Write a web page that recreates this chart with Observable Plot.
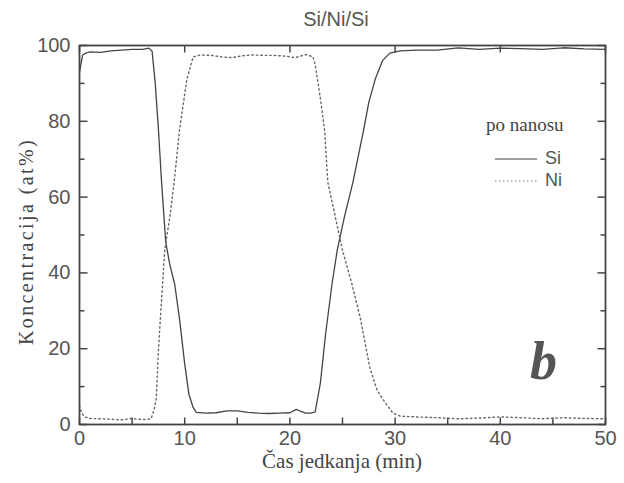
<!DOCTYPE html>
<html><head><meta charset="utf-8">
<script src="https://cdn.jsdelivr.net/npm/d3@7"></script>
<script src="https://cdn.jsdelivr.net/npm/@observablehq/plot@0.6"></script>
<style>
body{margin:0;background:#fff;}
#wrap{position:relative;width:624px;height:483px;}
.ov{position:absolute;color:#444;white-space:nowrap;}
</style></head>
<body><div id="wrap"></div>
<script>
const title = "Si/Ni/Si";
const xLabel = "Čas jedkanja (min)";
const yLabel = "Koncentracija (at%)";
const noteText = "po nanosu";
const panelLetter = "b";
const seriesNames = ["Si", "Ni"];

const siTime = [0,0.3,0.6,1,2,3,4,5,6,6.6,6.9,7.2,7.5,7.8,8.2,8.6,9.05,9.5,10,10.4,10.8,11.1,12,13,14,15,16,17,18,19,20,20.6,21,21.5,22,22.4,22.9,23.4,24,24.5,25.2,26,27,27.5,28.1,28.8,29.5,30.5,32,34,36,38,40,42,44,46,48,50];
const siValue = [93,97.5,98,98.3,98.2,98.6,98.8,99,99,99.3,98.5,90,78,64,48,42,37,28,16,8,4.5,3.2,3,3.1,3.6,3.6,3.2,3,2.9,3,3.1,4,3.5,3,3,3.3,11,24,37,46,55,64,77.6,85,91,96,98,98.6,98.8,98.8,99.4,99,99.3,99.2,99,99.4,99.1,99];

const niTime = [0,0.2,0.5,1,2,3,4,5,6,6.8,7.1,7.3,7.5,7.8,8.1,8.6,9.0,9.5,10.2,10.8,11.5,12.5,13.5,14.5,15.5,16.5,17.5,18.5,19.5,20.5,21.5,22.2,22.4,22.9,23.3,23.6,24.3,25,25.9,26.7,27.6,28.3,29,29.8,30.5,32,34,36,38,40,42,44,46,48,50];
const niValue = [5,3,2,1.6,1.5,1.4,1.2,1.6,1.3,1.5,4,7,19.5,33,46,55,64,77.6,91,97,97.5,97.4,97,96.8,97.3,97.5,97.4,97.4,97.2,96.8,97.6,97,95,86,77.6,64,55,46,37,28,15,9,6,3,2.2,2,1.8,1.5,1.7,2,1.8,1.5,1.8,1.6,1.5];

const xTicks = [0,10,20,30,40,50];
const xMinor = [0,5,10,15,20,25,30,35,40,45,50];
const yTicks = [0,20,40,60,80,100];
const yMinor = [10,30,50,70,90];
const xDomain = [0, 50];
const yDomain = [0, 100];

const si = siTime.map((t,i)=>({t, v: siValue[i]}));
const ni = niTime.map((t,i)=>({t, v: niValue[i]}));

const ink = "#444";
const sans = "'Liberation Sans',Arial,sans-serif";
const serif = "'Liberation Serif','Times New Roman',serif";
const W = 624, H = 483, mL = 79, mR = 19, mT = 45, mB = 59;
const fw = W - mL - mR, fh = H - mT - mB;
// convert a tick length in pixels to data units of each scale
const px2x = p => p * (xDomain[1] - xDomain[0]) / fw;
const px2y = p => p * (yDomain[1] - yDomain[0]) / fh;
const tickStyle = {stroke: ink, strokeWidth: 1.5};

const plot = Plot.plot({
  width: W, height: H,
  marginLeft: mL, marginRight: mR, marginTop: mT, marginBottom: mB,
  x: {domain: xDomain},
  y: {domain: yDomain},
  style: {fontFamily: sans, fontSize: "20px", color: ink, background: "#fff"},
  marks: [
    Plot.axisX({ticks: xTicks, tickSize: 0, tickPadding: 6, label: null, fill: "#555", fontSize: 20}),
    Plot.axisY({ticks: yTicks, tickSize: 0, tickPadding: 9, label: null, fill: "#555", fontSize: 20}),
    Plot.link(xMinor, {x1: d => d, x2: d => d, y1: yDomain[0], y2: yDomain[0] + px2y(7), ...tickStyle}),
    Plot.link(xTicks, {x1: d => d, x2: d => d, y1: yDomain[1], y2: yDomain[1] - px2y(7), ...tickStyle}),
    Plot.link(yTicks, {y1: d => d, y2: d => d, x1: xDomain[0], x2: xDomain[0] + px2x(8), ...tickStyle}),
    Plot.link(yMinor, {y1: d => d, y2: d => d, x1: xDomain[0], x2: xDomain[0] + px2x(5), ...tickStyle}),
    Plot.link(yTicks, {y1: d => d, y2: d => d, x1: xDomain[1], x2: xDomain[1] - px2x(8), ...tickStyle}),
    Plot.link(yMinor, {y1: d => d, y2: d => d, x1: xDomain[1], x2: xDomain[1] - px2x(5), ...tickStyle}),
    Plot.line(si, {x: "t", y: "v", stroke: ink, strokeWidth: 1.3}),
    Plot.line(ni, {x: "t", y: "v", stroke: "#666", strokeWidth: 1.4, strokeDasharray: "1.5,3"}),
    Plot.frame({stroke: ink, strokeWidth: 1.8})
  ]
});
const wrap = document.getElementById("wrap");
wrap.appendChild(plot);

function ov(html, style){
  const d = document.createElement("div");
  d.className = "ov";
  d.innerHTML = html;
  Object.assign(d.style, style);
  wrap.appendChild(d);
  return d;
}
ov(title, {left:"236px", width:"200px", top:"8px", textAlign:"center", fontFamily:sans, fontSize:"20px", color:"#555"});
ov(xLabel, {left:"142px", width:"400px", top:"449px", textAlign:"center", fontFamily:serif, fontSize:"21px", color:"#444"});
ov(yLabel, {left:"-124px", top:"230px", width:"300px", textAlign:"center", fontFamily:serif, fontSize:"20px", letterSpacing:"2.4px", color:"#444", transform:"rotate(-90deg)"});
ov(noteText, {left:"486px", top:"114px", fontFamily:serif, fontSize:"19px", color:"#444"});
ov(panelLetter, {left:"530px", top:"330px", fontFamily:serif, fontStyle:"italic", fontWeight:"bold", fontSize:"54px", color:"#555"});
ov(`<svg width="46" height="10"><line x1="1" x2="43" y1="5" y2="5" stroke="${ink}" stroke-width="1.2"/></svg><span style="margin-left:5px">${seriesNames[0]}</span>`,
   {left:"494px", top:"148px", fontFamily:sans, fontSize:"18px", color:"#555", display:"flex", alignItems:"center"});
ov(`<svg width="46" height="10"><line x1="1" x2="43" y1="5" y2="5" stroke="#777" stroke-width="1.2" stroke-dasharray="1.5,2.5"/></svg><span style="margin-left:5px">${seriesNames[1]}</span>`,
   {left:"494px", top:"170px", fontFamily:sans, fontSize:"18px", color:"#555", display:"flex", alignItems:"center"});
</script></body></html>
